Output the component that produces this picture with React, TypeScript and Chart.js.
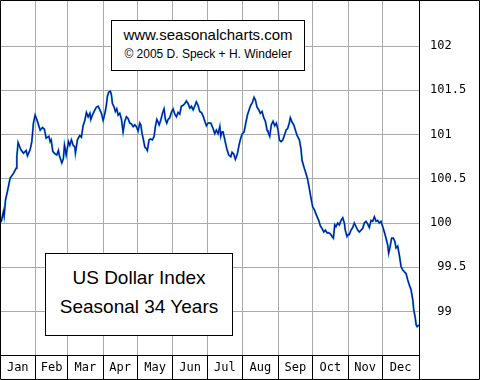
import React, { useEffect, useRef } from 'react';
import { Chart, registerables } from 'chart.js';

Chart.register(...registerables);

const MONTHS = ['Jan', 'Feb', 'Mar', 'Apr', 'May', 'Jun', 'Jul', 'Aug', 'Sep', 'Oct', 'Nov', 'Dec'];
const MONTH_STARTS = [0, 31, 59, 90, 120, 151, 181, 212, 243, 273, 304, 334, 366];
const Y_TICKS = [99, 99.5, 100, 100.5, 101, 101.5, 102];
const Y_LABELS = [' 99', ' 99.5', '100', '100.5', '101', '101.5', '102'];

const DAYS = [
  1, 3.0, 3.6, 4.8, 6.5, 8.9, 11.7, 14.1, 14.7, 15.8,
  18.2, 20.5, 22.8, 24.0, 26.3, 27.8, 29.2, 30.7, 32.7, 35.1,
  37.1, 38.8, 40.3, 42.7, 43.8, 44.7, 46.1, 48.2, 49.6, 51.0,
  51.9, 54.0, 55.4, 56.3, 57.8, 59.8, 61.0, 62.4, 63.9, 65.4,
  65.9, 67.6, 69.7, 71.1, 72.6, 74.1, 75.5, 77.0, 78.5, 79.3,
  80.7, 82.2, 84.2, 85.7, 87.2, 88.6, 90.1, 91.6, 92.9, 93.8,
  95.0, 96.4, 97.3, 98.2, 99.7, 100.8, 102.0, 103.2, 104.6, 106.0,
  107.5, 109.0, 110.4, 111.9, 113.4, 114.8, 116.3, 117.7, 119.1, 120.6,
  122.1, 123.0, 124.1, 125.3, 126.5, 127.9, 128.7, 130.2, 131.7, 133.1,
  134.6, 135.7, 137.0, 138.1, 139.0, 140.4, 141.9, 143.3, 144.5, 145.7,
  146.8, 148.3, 149.7, 151.2, 152.7, 154.1, 155.6, 157.0, 158.4, 159.9,
  161.4, 162.8, 164.3, 165.8, 167.2, 168.7, 170.1, 171.5, 173.0, 174.5,
  175.9, 177.4, 178.9, 180.3, 181.8, 184.1, 186.1, 187.6, 189.0, 190.5,
  192.0, 192.8, 194.0, 194.9, 195.7, 196.9, 198.3, 199.8, 201.6, 202.7,
  204.2, 205.6, 207.3, 208.8, 210.3, 211.7, 213.2, 214.7, 216.1, 217.6,
  219.0, 220.4, 221.9, 223.1, 224.5, 226.0, 227.4, 228.9, 230.4, 231.8,
  233.3, 234.1, 235.6, 237.0, 238.5, 240.0, 241.4, 242.9, 244.0, 245.5,
  247.0, 248.4, 249.9, 251.3, 252.7, 253.6, 255.1, 256.6, 258.0, 259.5,
  261.5, 263.0, 263.8, 265.8, 267.3, 268.8, 270.2, 271.7, 273.2, 274.6,
  276.7, 278.4, 279.8, 281.3, 282.8, 284.2, 285.7, 287.1, 288.5, 290.0,
  291.2, 292.4, 293.5, 295.0, 296.4, 297.9, 299.4, 300.8, 301.6, 303.1,
  304.0, 305.1, 306.6, 308.1, 309.5, 311.0, 312.5, 313.9, 315.4, 316.8,
  318.2, 319.7, 321.2, 322.6, 324.1, 325.6, 327.0, 328.5, 329.9, 331.3,
  332.8, 334.3, 335.7, 337.2, 338.7, 339.5, 340.7, 342.1, 343.6, 345.0,
  345.9, 347.4, 348.8, 350.3, 351.8, 353.2, 354.7, 356.1, 357.6, 359.0,
  360.6, 361.4, 362.6, 363.5, 364.4, 365.9,
];

const VALUES = [
  100.01, 100.13, 100.08, 100.26, 100.36, 100.51, 100.56, 100.62, 100.75, 100.91,
  100.83, 100.79, 100.82, 100.76, 100.83, 100.92, 101.13, 101.22, 101.15, 101.05,
  101.08, 101.06, 100.96, 100.98, 100.92, 100.94, 100.81, 100.78, 100.77, 100.82,
  100.76, 100.68, 100.73, 100.88, 100.77, 100.92, 100.88, 100.94, 100.88, 100.86,
  100.79, 100.94, 100.99, 100.97, 101.10, 101.16, 101.25, 101.20, 101.24, 101.17,
  101.22, 101.26, 101.31, 101.32, 101.28, 101.24, 101.16, 101.24, 101.33, 101.43,
  101.48, 101.49, 101.45, 101.35, 101.31, 101.26, 101.29, 101.22, 101.24, 101.18,
  101.03, 101.15, 101.20, 101.18, 101.13, 101.12, 101.09, 101.11, 101.09, 101.04,
  101.13, 101.11, 101.01, 100.94, 100.86, 100.84, 100.82, 100.94, 100.95, 100.94,
  100.98, 101.09, 101.17, 101.14, 101.11, 101.16, 101.24, 101.29, 101.17, 101.13,
  101.17, 101.19, 101.25, 101.29, 101.23, 101.20, 101.25, 101.23, 101.32, 101.33,
  101.35, 101.38, 101.35, 101.30, 101.32, 101.28, 101.32, 101.37, 101.33, 101.26,
  101.25, 101.21, 101.15, 101.10, 101.13, 101.13, 101.07, 101.01, 101.05, 101.01,
  101.09, 100.98, 101.03, 101.03, 100.98, 100.91, 100.83, 100.77, 100.75, 100.80,
  100.78, 100.72, 100.78, 100.88, 100.96, 101.01, 101.03, 101.13, 101.22, 101.28,
  101.33, 101.36, 101.42, 101.39, 101.31, 101.28, 101.24, 101.26, 101.19, 101.15,
  101.05, 101.03, 100.98, 101.11, 101.15, 101.10, 101.13, 101.05, 100.94, 100.92,
  100.94, 100.99, 101.05, 101.07, 101.13, 101.19, 101.14, 101.11, 101.05, 100.99,
  100.94, 100.83, 100.71, 100.62, 100.56, 100.49, 100.39, 100.28, 100.18, 100.15,
  100.08, 100.03, 99.97, 99.94, 99.90, 99.92, 99.89, 99.89, 99.88, 99.85,
  99.83, 99.98, 99.96, 100.00, 99.98, 100.03, 100.06, 100.00, 99.92, 99.85,
  99.87, 99.87, 99.92, 99.95, 100.00, 99.96, 99.92, 99.90, 99.92, 99.94,
  100.00, 100.02, 99.99, 99.95, 100.03, 100.02, 100.07, 100.02, 100.03, 100.00,
  100.02, 99.96, 99.90, 99.83, 99.75, 99.66, 99.73, 99.83, 99.83, 99.79,
  99.72, 99.74, 99.64, 99.51, 99.47, 99.45, 99.43, 99.36, 99.30, 99.25,
  99.13, 99.02, 98.94, 98.85, 98.83, 98.85,
];

const BOUNDARIES = MONTH_STARTS.slice(1, 12);
const MIDS = MONTHS.map((_, i) => (MONTH_STARTS[i] + MONTH_STARTS[i + 1]) / 2);

const framePlugin = {
  id: 'frame',
  afterDraw(chart: any) {
    const { ctx, chartArea, width, height } = chart;
    ctx.save();
    ctx.strokeStyle = '#000';
    ctx.lineWidth = 1;
    ctx.beginPath();
    ctx.rect(0.5, 0.5, width - 1, height - 1);
    ctx.moveTo(Math.round(chartArea.right) + 0.5, 0);
    ctx.lineTo(Math.round(chartArea.right) + 0.5, height);
    ctx.moveTo(0, Math.round(chartArea.bottom) + 0.5);
    ctx.lineTo(Math.round(chartArea.right) + 0.5, Math.round(chartArea.bottom) + 0.5);
    ctx.stroke();
    ctx.restore();
  },
};

const MONO = '"DejaVu Sans Mono", monospace';
const SANS = '"Liberation Sans", Arial, sans-serif';

export default function App() {
  const canvasRef = useRef<HTMLCanvasElement | null>(null);

  useEffect(() => {
    const canvas = canvasRef.current;
    if (!canvas) return;
    const points = DAYS.map((d, i) => ({ x: d, y: VALUES[i] }));
    const boundarySet = new Set(BOUNDARIES);
    const chart = new Chart(canvas, {
      type: 'line',
      data: {
        datasets: [
          { data: points, borderColor: '#0a0aa8', borderWidth: 1.1, pointRadius: 0, tension: 0, order: 1 },
          { data: points, borderColor: '#22a6c2', borderWidth: 2, pointRadius: 0, tension: 0, order: 2 },
        ],
      },
      options: {
        animation: false,
        responsive: false,
        devicePixelRatio: 1,
        layout: { padding: 0 },
        plugins: { legend: { display: false }, tooltip: { enabled: false }, title: { display: false } },
        scales: {
          x: {
            type: 'linear',
            position: 'bottom',
            min: 0,
            max: 366,
            afterBuildTicks: (s: any) => {
              s.ticks = [...BOUNDARIES, ...MIDS].sort((a, b) => a - b).map((v) => ({ value: v }));
            },
            afterFit: (s: any) => {
              s.height = 25;
              s.paddingLeft = 0;
              s.paddingRight = 0;
            },
            border: { display: false },
            grid: {
              color: (c: any) => (c.tick && boundarySet.has(c.tick.value) ? '#aaaaaa' : 'rgba(0,0,0,0)'),
              tickColor: (c: any) => (c.tick && boundarySet.has(c.tick.value) ? '#000000' : 'rgba(0,0,0,0)'),
              tickLength: 24,
              lineWidth: 1,
            },
            ticks: {
              autoSkip: false,
              maxRotation: 0,
              minRotation: 0,
              padding: -18,
              color: '#000',
              font: { family: MONO, size: 12 },
              callback: (v: any) => {
                const i = MIDS.indexOf(Number(v));
                return i >= 0 ? MONTHS[i] : '';
              },
            },
          },
          y: {
            type: 'linear',
            position: 'right',
            min: 98.51,
            max: 102.52,
            afterBuildTicks: (s: any) => {
              s.ticks = Y_TICKS.map((v) => ({ value: v }));
            },
            afterFit: (s: any) => {
              s.width = 61;
              s.paddingTop = 0;
              s.paddingBottom = 0;
            },
            border: { display: false },
            grid: { color: '#aaaaaa', drawTicks: false, lineWidth: 1 },
            ticks: {
              padding: 11,
              color: '#000',
              font: { family: MONO, size: 12 },
              callback: (v: any) => {
                const i = Y_TICKS.indexOf(Number(v));
                return i >= 0 ? Y_LABELS[i] : '';
              },
            },
          },
        },
      },
      plugins: [framePlugin],
    } as any);
    return () => chart.destroy();
  }, []);

  const box: React.CSSProperties = {
    position: 'absolute',
    boxSizing: 'border-box',
    border: '1px solid #000',
    background: '#fff',
  };
  const line = (top: number, size: number, lh: number): React.CSSProperties => ({
    position: 'absolute',
    left: 0,
    right: 0,
    top,
    textAlign: 'center',
    fontFamily: SANS,
    fontSize: size,
    lineHeight: `${lh}px`,
    color: '#000',
    whiteSpace: 'nowrap',
  });

  return (
    <div style={{ position: 'fixed', left: 0, top: 0, width: 480, height: 380, background: '#fff' }}>
      <canvas ref={canvasRef} width={480} height={380} style={{ display: 'block', width: 480, height: 380 }} />
      <div style={{ ...box, left: 111, top: 20, width: 194, height: 51 }}>
        <div style={line(5, 15, 18)}>www.seasonalcharts.com</div>
        <div style={line(26, 12, 14)}>© 2005 D. Speck + H. Windeler</div>
      </div>
      <div style={{ ...box, left: 45, top: 253, width: 188, height: 83 }}>
        <div style={line(12.5, 19, 22)}>US Dollar Index</div>
        <div style={line(41.5, 19, 22)}>Seasonal 34 Years</div>
      </div>
    </div>
  );
}
